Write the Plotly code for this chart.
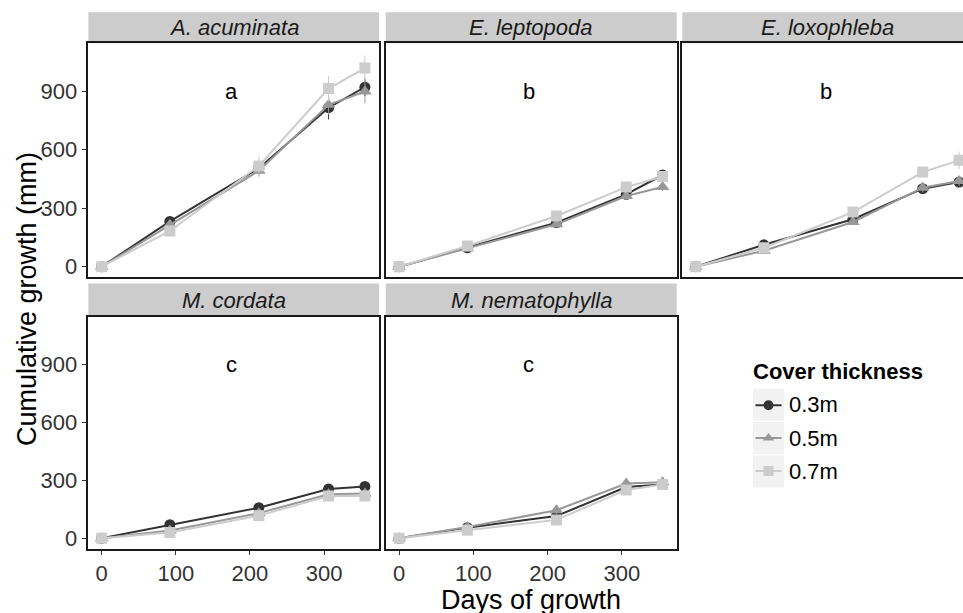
import plotly.graph_objects as go

W, H = 963, 613
FONT = "Liberation Sans, Arial, sans-serif"

# ---------------- data ----------------
species = ["A. acuminata", "E. leptopoda", "E. loxophleba", "M. cordata", "M. nematophylla"]
letters = ["a", "b", "b", "c", "c"]
covers = ["0.3m", "0.5m", "0.7m"]
days = [0, 92, 212, 306, 355]

growth_acuminata = {
    "0.3m": [0, 232, 505, 815, 920],
    "0.5m": [0, 215, 492, 830, 898],
    "0.7m": [0, 183, 516, 913, 1018],
}
err_acuminata = {
    "0.3m": [8, 20, 30, 60, 45],
    "0.5m": [8, 20, 30, 50, 60],
    "0.7m": [8, 20, 50, 65, 65],
}
growth_leptopoda = {
    "0.3m": [0, 97, 226, 371, 470],
    "0.5m": [0, 95, 217, 362, 408],
    "0.7m": [0, 106, 260, 408, 462],
}
err_leptopoda = {
    "0.3m": [5, 12, 15, 20, 25],
    "0.5m": [5, 10, 15, 20, 20],
    "0.7m": [5, 12, 15, 20, 20],
}
growth_loxophleba = {
    "0.3m": [0, 112, 243, 400, 434],
    "0.5m": [0, 82, 229, 405, 439],
    "0.7m": [0, 97, 280, 485, 545],
}
err_loxophleba = {
    "0.3m": [5, 15, 15, 25, 25],
    "0.5m": [5, 12, 15, 25, 25],
    "0.7m": [5, 12, 20, 25, 45],
}
growth_cordata = {
    "0.3m": [0, 70, 158, 255, 268],
    "0.5m": [0, 40, 130, 228, 232],
    "0.7m": [0, 30, 117, 218, 218],
}
err_cordata = {
    "0.3m": [20, 15, 15, 20, 20],
    "0.5m": [20, 12, 15, 20, 20],
    "0.7m": [20, 12, 15, 20, 20],
}
growth_nematophylla = {
    "0.3m": [0, 55, 115, 265, 278],
    "0.5m": [0, 58, 145, 283, 290],
    "0.7m": [0, 42, 95, 250, 278],
}
err_nematophylla = {
    "0.3m": [20, 15, 20, 25, 25],
    "0.5m": [20, 15, 20, 25, 25],
    "0.7m": [20, 12, 20, 25, 25],
}
growth = [growth_acuminata, growth_leptopoda, growth_loxophleba, growth_cordata, growth_nematophylla]
errors = [err_acuminata, err_leptopoda, err_loxophleba, err_cordata, err_nematophylla]

y_ticks = [0, 300, 600, 900]
x_ticks = [0, 100, 200, 300]

# ---------------- styles ----------------
colors = {"0.3m": "#333333", "0.5m": "#989898", "0.7m": "#CCCCCC"}
symbols = {"0.3m": "circle", "0.5m": "triangle-up", "0.7m": "square"}
msize = {"0.3m": 11, "0.5m": 12, "0.7m": 11}


def px_x(p):
    return p / W


def px_y(p):
    return 1 - p / H


# panel geometry in pixels (left, right, top, bottom)
cols = [(88.3, 379.0), (385.7, 676.7), (682.3, 963.0)]
rows = [(43.3, 278.3), (317.7, 550.7)]
strips = [(12.3, 43.3), (284.5, 317.7)]
panel_pos = [(0, 0), (0, 1), (0, 2), (1, 0), (1, 1)]
XR_FULL = [-18, 374]
XR_CROP = [-18, 360.3]
YR = [-55, 1146]

fig = go.Figure()
layout = dict(
    width=W, height=H, margin=dict(l=0, r=0, t=0, b=0),
    paper_bgcolor="white", plot_bgcolor="white", showlegend=False,
    font=dict(family=FONT, color="#333333"),
)
shapes = []
annotations = []

for i, sp in enumerate(species):
    r, c = panel_pos[i]
    n = i + 1
    xa = "xaxis" if n == 1 else f"xaxis{n}"
    ya = "yaxis" if n == 1 else f"yaxis{n}"
    xref = "x" if n == 1 else f"x{n}"
    yref = "y" if n == 1 else f"y{n}"
    x0, x1 = cols[c]
    t, b = rows[r]
    show_x = (r == 1)
    show_y = (c == 0)
    layout[xa] = dict(
        domain=[px_x(x0), min(1.0, px_x(x1))], anchor=yref,
        range=XR_CROP if c == 2 else XR_FULL,
        showgrid=False, zeroline=False, showline=True, mirror=True,
        linecolor="#1A1A1A", linewidth=1.5,
        tickvals=x_ticks if show_x else [], ticks="outside" if show_x else "",
        ticklen=4, tickwidth=1, tickcolor="#333333",
        showticklabels=show_x, tickfont=dict(size=22, color="#333333", family=FONT),
    )
    layout[ya] = dict(
        domain=[px_y(b), px_y(t)], anchor=xref, range=YR,
        showgrid=False, zeroline=False, showline=True, mirror=(c != 2),
        linecolor="#1A1A1A", linewidth=1.5,
        tickvals=y_ticks if show_y else [], ticks="outside" if show_y else "",
        ticklen=5, tickwidth=1, tickcolor="#333333",
        showticklabels=show_y, tickfont=dict(size=22, color="#333333", family=FONT),
    )
    # strip
    st, sb = strips[r]
    shapes.append(dict(type="rect", xref="paper", yref="paper",
                       x0=px_x(x0), x1=px_x(x1 if c != 2 else 963), y0=px_y(sb), y1=px_y(st),
                       fillcolor="#CCCCCC", line=dict(width=0), layer="below"))
    cx = (x0 + (x1 if c != 2 else x0 + 290.7)) / 2
    annotations.append(dict(xref="paper", yref="paper", x=px_x(cx), y=px_y((st + sb) / 2),
                            text=f"<i>{sp}</i>", showarrow=False, xanchor="center", yanchor="middle",
                            font=dict(size=22, color="#1A1A1A", family=FONT)))
    # significance letter
    annotations.append(dict(xref=xref, yref=yref, x=175, y=900, text=letters[i], showarrow=False,
                            xanchor="center", yanchor="middle",
                            font=dict(size=22, color="black", family=FONT)))
    for cv in covers:
        fig.add_trace(go.Scatter(
            x=days, y=growth[i][cv], xaxis=xref, yaxis=yref, mode="lines+markers",
            line=dict(color=colors[cv], width=2),
            marker=dict(symbol=symbols[cv], size=msize[cv], color=colors[cv]),
            error_y=dict(type="data", array=errors[i][cv], color=colors[cv], thickness=1, width=0),
            name=cv, showlegend=False, hoverinfo="skip",
        ))

# ---------------- manual legend ----------------
leg_left, leg_right = 753.0, 784.0
row_centers = [406.0, 439.5, 473.0]
row_h = 32.0
for k, cv in enumerate(covers):
    yc = row_centers[k]
    shapes.append(dict(type="rect", xref="paper", yref="paper",
                       x0=px_x(leg_left), x1=px_x(leg_right),
                       y0=px_y(yc + row_h / 2), y1=px_y(yc - row_h / 2),
                       fillcolor="#F2F2F2", line=dict(width=0), layer="below"))
    annotations.append(dict(xref="paper", yref="paper", x=px_x(787), y=px_y(yc), text=cv,
                            showarrow=False, xanchor="left", yanchor="middle",
                            font=dict(size=22, color="black", family=FONT)))
annotations.append(dict(xref="paper", yref="paper", x=px_x(751), y=px_y(373), text="<b>Cover thickness</b>",
                        showarrow=False, xanchor="left", yanchor="middle",
                        font=dict(size=22, color="black", family=FONT)))

# legend glyphs on a hidden helper axis
layout["xaxis6"] = dict(domain=[px_x(leg_left), px_x(leg_right)], anchor="y6", range=[0, 1],
                        visible=False, fixedrange=True)
layout["yaxis6"] = dict(domain=[px_y(row_centers[-1] + row_h / 2), px_y(row_centers[0] - row_h / 2)],
                        anchor="x6", range=[len(covers), 0], visible=False, fixedrange=True)
for k, cv in enumerate(covers):
    fig.add_trace(go.Scatter(
        x=[0.08, 0.5, 0.92], y=[k + 0.5] * 3, xaxis="x6", yaxis="y6",
        mode="lines", line=dict(color=colors[cv], width=2), showlegend=False, hoverinfo="skip"))
    fig.add_trace(go.Scatter(
        x=[0.5], y=[k + 0.5], xaxis="x6", yaxis="y6", mode="markers",
        marker=dict(symbol=symbols[cv], size=10, color=colors[cv]), showlegend=False, hoverinfo="skip"))

# axis titles
annotations.append(dict(xref="paper", yref="paper", x=px_x(530.5), y=px_y(602), text="Days of growth",
                        showarrow=False, xanchor="center", yanchor="middle",
                        font=dict(size=27, color="black", family=FONT)))
annotations.append(dict(xref="paper", yref="paper", x=px_x(27), y=px_y(300), text="Cumulative growth (mm)",
                        showarrow=False, xanchor="center", yanchor="middle", textangle=-90,
                        font=dict(size=27, color="black", family=FONT)))

layout["shapes"] = shapes
layout["annotations"] = annotations
fig.update_layout(**layout)
fig.write_html("out.html")
